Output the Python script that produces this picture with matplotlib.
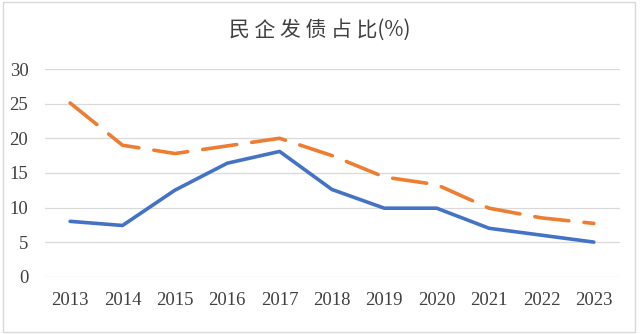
import matplotlib.pyplot as plt
from matplotlib.patches import Rectangle

years = ['2013', '2014', '2015', '2016', '2017', '2018', '2019', '2020', '2021', '2022', '2023']
blue_vals = [8.0, 7.4, 12.5, 16.4, 18.1, 12.6, 9.9, 9.9, 7.0, 6.0, 5.0]
orange_vals = [25.1, 19.0, 17.8, 18.9, 20.0, 17.5, 14.4, 13.3, 9.9, 8.5, 7.7]
yticks = [0, 5, 10, 15, 20, 25, 30]

fig = plt.figure(figsize=(6.4, 3.34), dpi=100)
ax = fig.add_axes([45 / 640, 1 - 276.7 / 334, 575 / 640, 207.6 / 334])

x = list(range(len(years)))
ax.plot(x, blue_vals, color='#4472C4', lw=2.6, solid_capstyle='round', zorder=3)
ax.plot(x, orange_vals, color='#ED7D31', lw=2.6, linestyle=(0, (9.5, 4.2)),
        dash_capstyle='round', zorder=3)

ax.set_xlim(-0.48, 10.5)
ax.set_ylim(0, 30)
ax.set_yticks(yticks)
ax.set_xticks(x)
ax.set_xticklabels(years)
for s in ax.spines.values():
    s.set_visible(False)
ax.grid(axis='y', color='#D9D9D9', lw=0.9)
ax.set_axisbelow(True)
ax.tick_params(length=0, labelsize=13.5, labelcolor='#404040')
ax.tick_params(axis='y', pad=12)
ax.tick_params(axis='x', pad=11)
for lab in ax.get_xticklabels() + ax.get_yticklabels():
    lab.set_family('Liberation Serif')

# letter-spaced title like the original
fig.text(320 / 640, 1 - 30 / 334, '民 企 发 债 占 比(%)', ha='center', va='center',
         fontsize=15, color='#404040', family=['Noto Sans CJK SC', 'DejaVu Sans'])

fig.patches.append(Rectangle((0.004, 0.006), 0.988, 0.988, transform=fig.transFigure,
                             fill=False, edgecolor='#D9D9D9', lw=1))

fig.savefig('out.png', dpi=100)
